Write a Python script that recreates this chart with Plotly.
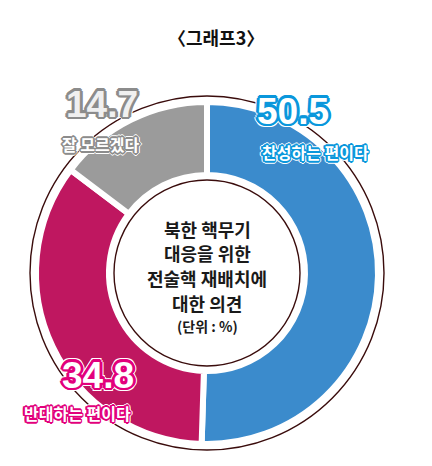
import math
import plotly.graph_objects as go

# ---- data ----
categories = ["찬성하는 편이다", "반대하는 편이다", "잘 모르겠다"]
values = [50.5, 34.8, 14.7]
slice_colors = ["#3b8bcc", "#bf1760", "#9b9b9b"]
stroke_colors = ["#0a97dc", "#e2007c", "#8c8c8c"]
number_fill = ["#ffffff", "#ffffff", "#f0f0f0"]
title_text = "〈그래프3〉"
center_lines = ["북한 핵무기", "대응을 위한", "전술핵 재배치에", "대한 의견"]
unit_text = "(단위 : %)"

W, H = 432, 466
CX, CY = 207, 273
R = 171

KR = "Noto Sans CJK KR"
NUM = "Liberation Sans"

fig = go.Figure()
fig.add_trace(go.Pie(
    labels=categories, values=values, sort=False, direction="clockwise", rotation=0,
    hole=98 / R,
    marker=dict(colors=slice_colors, line=dict(color="white", width=6)),
    textinfo="none", hoverinfo="skip", showlegend=False,
    domain=dict(x=[(CX - R) / W, (CX + R) / W], y=[(H - CY - R) / H, (H - CY + R) / H]),
))


def px(x):
    return x / W


def py(y):
    return 1 - y / H


def circle(r, color, width):
    fig.add_shape(type="circle", xref="paper", yref="paper",
                  x0=px(CX - r), x1=px(CX + r), y0=py(CY + r), y1=py(CY - r),
                  line=dict(color=color, width=width))


circle(177, "#3a0c0c", 1.4)
circle(93, "#3a0c0c", 1.4)

annotations = []


def text(x, y, s, size, color, family=KR, weight="bold"):
    annotations.append(dict(xref="paper", yref="paper", x=px(x), y=py(y), text=s,
                            showarrow=False, xanchor="center", yanchor="middle",
                            font=dict(family=family, size=size, color=color, weight=weight)))


def outlined(x, y, s, size, fill, stroke, family, sw=2.5):
    # thin white halo, then colored stroke, then fill
    for rad, col in ((sw + 1.2, "#ffffff"), (sw, stroke)):
        for k in range(12):
            a = 2 * math.pi * k / 12
            annotations.append(dict(xref="paper", yref="paper", x=px(x), y=py(y), text=s,
                                    showarrow=False, xanchor="center", yanchor="middle",
                                    xshift=rad * math.cos(a), yshift=rad * math.sin(a),
                                    font=dict(family=family, size=size, color=col, weight="bold")))
    text(x, y, s, size, fill, family)


# number and label positions per category (pixel space)
num_pos = [(293, 111), (98, 375), (102, 104)]
lab_pos = [(315, 152), (77, 413), (101, 144)]
for i, cat in enumerate(categories):
    outlined(*num_pos[i], f"{values[i]:.1f}", 37, number_fill[i], stroke_colors[i], NUM, 2.6)
    outlined(*lab_pos[i], cat, 16, "#ffffff", stroke_colors[i], KR, 1.6)

text(216, 37, title_text, 18, "#111111")
for j, line in enumerate(center_lines):
    text(207, 229 + j * 24.5, line, 18, "#1a1a1a")
text(207, 326, unit_text, 14, "#1a1a1a")

fig.update_layout(width=W, height=H, margin=dict(l=0, r=0, t=0, b=0),
                  paper_bgcolor="white", plot_bgcolor="white",
                  annotations=annotations)
fig.write_html("out.html", config={"displayModeBar": False},
               post_script="document.body.style.margin='0';")
